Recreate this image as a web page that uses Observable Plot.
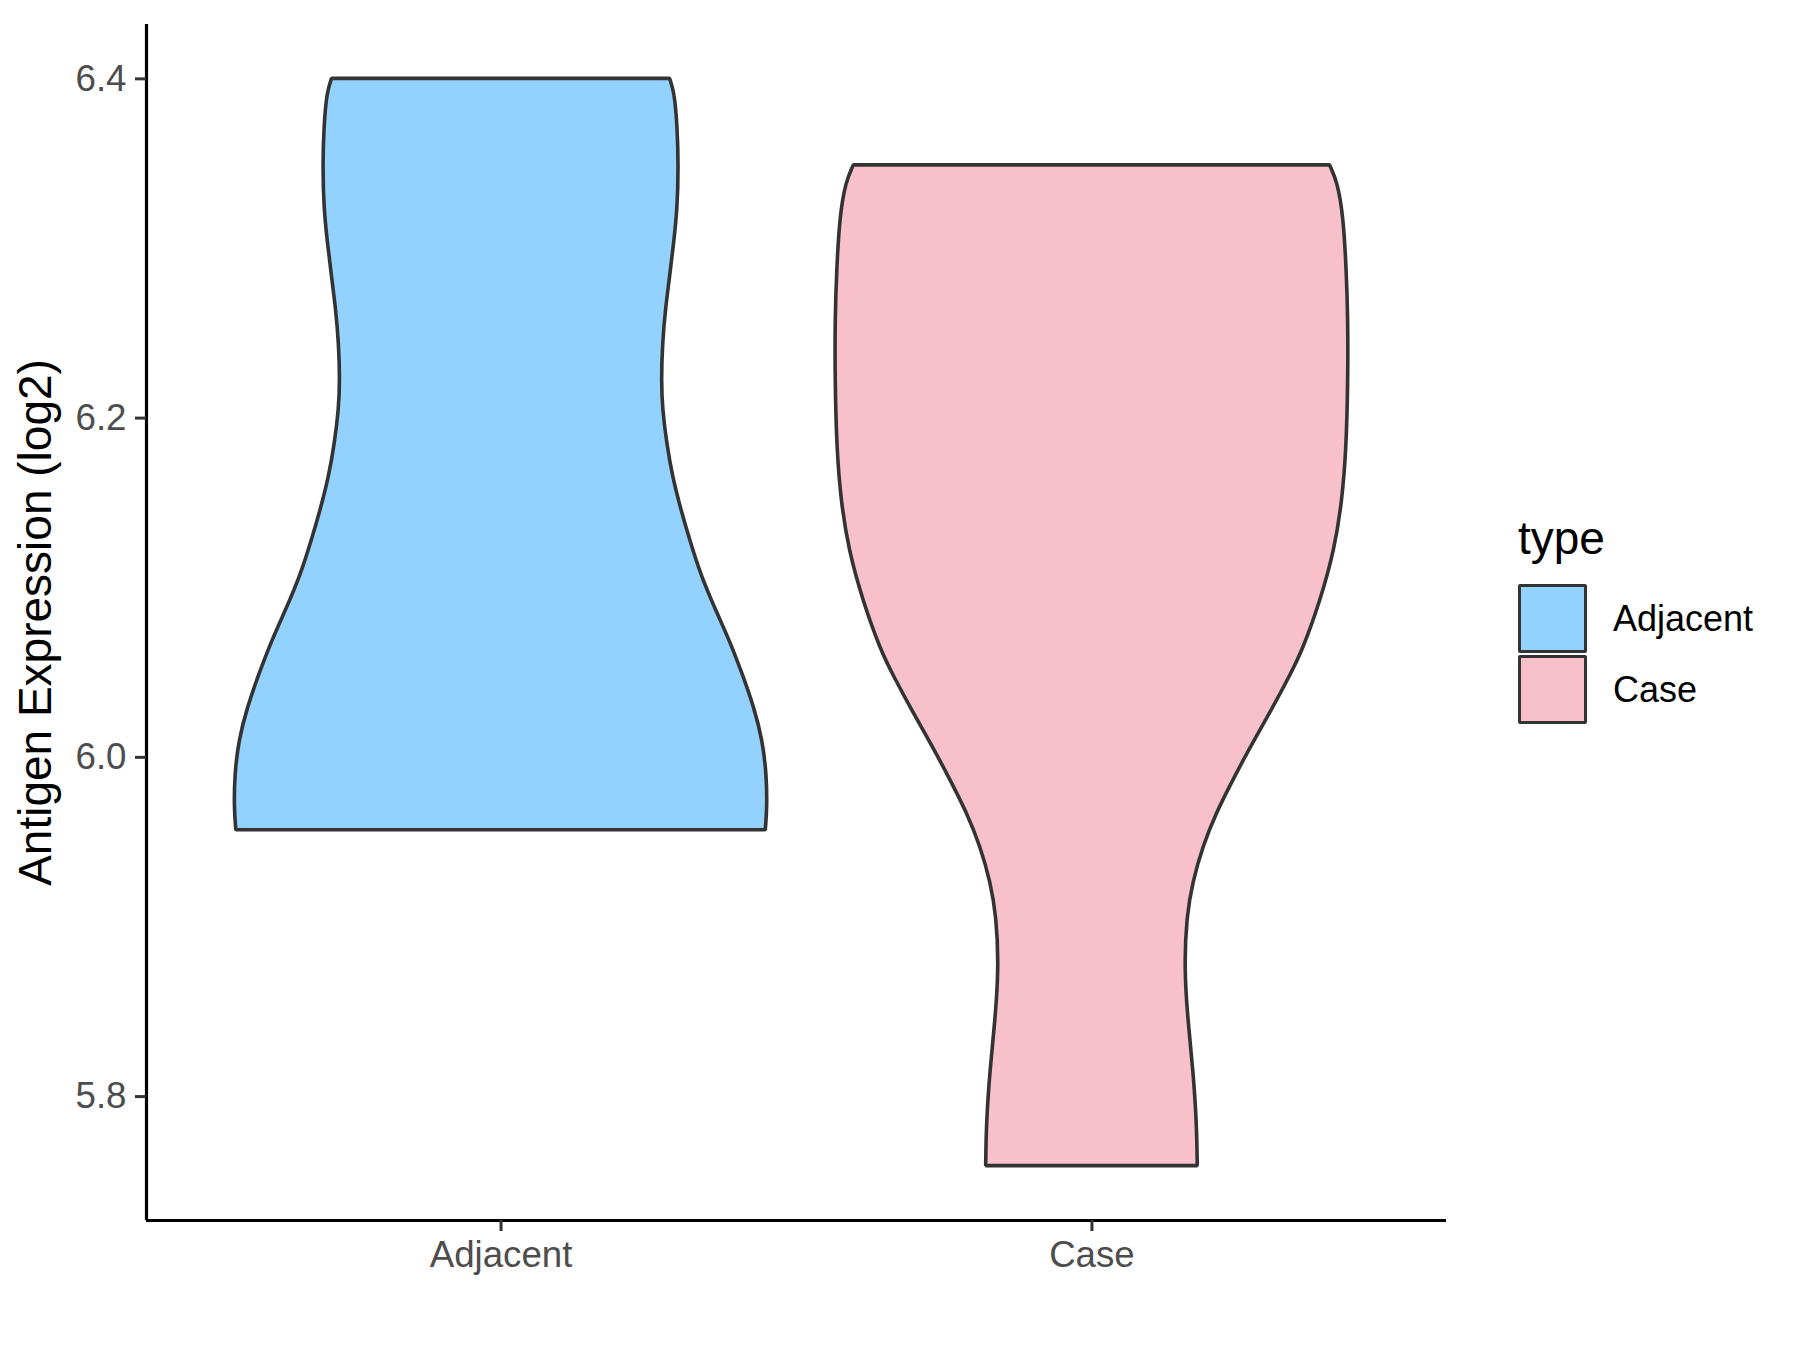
<!DOCTYPE html>
<html>
<head>
<meta charset="utf-8">
<script src="https://cdn.jsdelivr.net/npm/d3@7"></script>
<script src="https://cdn.jsdelivr.net/npm/@observablehq/plot@0.6"></script>
<style>
  body { margin: 0; background: #fff; }
  #wrap { position: relative; width: 1800px; height: 1350px; font-family: "Liberation Sans", Arial, sans-serif; background: #fff; }
  #wrap svg g[aria-label="y-axis label"] text { font-size: 46px; fill: #000; }
  #wrap svg g[aria-label="y-axis tick"] path, #wrap svg g[aria-label="x-axis tick"] path { stroke: #333333; stroke-width: 3px; }
  #wrap svg g[aria-label="y-axis tick label"] text, #wrap svg g[aria-label="x-axis tick label"] text { fill: #4D4D4D; }
  .lg-title { position: absolute; left: 1518px; top: 515px; font-size: 46px; line-height: 46px; color: #000; }
  .lg-key { position: absolute; left: 1518px; width: 69px; height: 69px; box-sizing: border-box; border: 3.4px solid #333333; border-radius: 2px; }
  .lg-label { position: absolute; left: 1613px; height: 69px; line-height: 69px; font-size: 36px; color: #000; }
</style>
</head>
<body>
<div id="wrap"></div>
<script>
// ---- data ----
const categories = ["Adjacent", "Case"];
const fillColors = ["#93D2FE", "#F7C0CB"];

// Adjacent violin outline: expression value (log2) and half width (in category units)
const adjacentValues =    [6.400, 6.392, 6.372, 6.348, 6.323, 6.303, 6.283, 6.264, 6.244, 6.222, 6.205, 6.185, 6.165, 6.146, 6.128, 6.108, 6.088, 6.069, 6.049, 6.029, 6.010, 5.990, 5.970, 5.957];
const adjacentHalfWidth = [0.286, 0.294, 0.299, 0.301, 0.299, 0.293, 0.286, 0.279, 0.274, 0.272, 0.274, 0.281, 0.291, 0.305, 0.320, 0.338, 0.362, 0.387, 0.409, 0.429, 0.443, 0.450, 0.451, 0.448];

// Case violin outline
const caseValues =    [6.349, 6.339, 6.319, 6.289, 6.259, 6.221, 6.181, 6.151, 6.122, 6.092, 6.063, 6.049, 6.028, 6.008, 5.987, 5.967, 5.947, 5.926, 5.906, 5.876, 5.845, 5.815, 5.784, 5.759];
const caseHalfWidth = [0.403, 0.416, 0.426, 0.431, 0.434, 0.434, 0.431, 0.424, 0.411, 0.387, 0.357, 0.337, 0.305, 0.272, 0.240, 0.211, 0.188, 0.171, 0.161, 0.157, 0.163, 0.172, 0.178, 0.179];

const yTicks = [5.8, 6.0, 6.2, 6.4];
const yLabel = "Antigen Expression (log2)";
const legendTitle = "type";

// ---- build table ----
const rows = [];
adjacentValues.forEach((v, i) => rows.push({type: categories[0], pos: 1, v, hw: adjacentHalfWidth[i]}));
caseValues.forEach((v, i) => rows.push({type: categories[1], pos: 2, v, hw: caseHalfWidth[i]}));

// ggplot-like expansion of scales
const allV = rows.map(d => d.v);
const vMin = d3.min(allV), vMax = d3.max(allV);
const pad = (vMax - vMin) * 0.05;
const yDomain = [vMin - pad, vMax + pad];
const xDomain = [1 - 0.6, categories.length + 0.6];

const chart = Plot.plot({
  width: 1800,
  height: 1350,
  marginLeft: 146,
  marginRight: 354,
  marginTop: 24,
  marginBottom: 130,
  style: {fontFamily: '"Liberation Sans", Arial, sans-serif', background: "#fff", overflow: "visible"},
  x: {domain: xDomain},
  y: {domain: yDomain},
  color: {domain: categories, range: fillColors},
  marks: [
    Plot.areaX(rows, {
      y: "v",
      x1: d => d.pos - d.hw,
      x2: d => d.pos + d.hw,
      z: "type",
      fill: "type",
      stroke: "#333333",
      strokeWidth: 3.6,
      strokeLinejoin: "miter",
      curve: "basis"
    }),
    Plot.ruleX([xDomain[0]], {stroke: "#000", strokeWidth: 3.2}),
    Plot.ruleY([yDomain[0]], {stroke: "#000", strokeWidth: 3.2}),
    Plot.axisY({
      ticks: yTicks,
      tickFormat: d3.format(".1f"),
      tickSize: 11,
      tickPadding: 9,
      fontSize: 36.7,
      label: yLabel,
      labelAnchor: "center",
      labelArrow: "none",
      labelOffset: 128
    }),
    Plot.axisX({
      ticks: categories.map((c, i) => i + 1),
      tickFormat: d => categories[d - 1],
      tickSize: 11,
      tickPadding: 9,
      fontSize: 36.7,
      label: null
    })
  ]
});

const wrap = document.getElementById("wrap");
wrap.appendChild(chart);

// legend
const title = document.createElement("div");
title.className = "lg-title";
title.textContent = legendTitle;
wrap.appendChild(title);
const keyTops = [584, 655];
categories.forEach((c, i) => {
  const key = document.createElement("div");
  key.className = "lg-key";
  key.style.top = keyTops[i] + "px";
  key.style.background = fillColors[i];
  wrap.appendChild(key);
  const lab = document.createElement("div");
  lab.className = "lg-label";
  lab.style.top = keyTops[i] + "px";
  lab.textContent = c;
  wrap.appendChild(lab);
});
</script>
</body>
</html>
